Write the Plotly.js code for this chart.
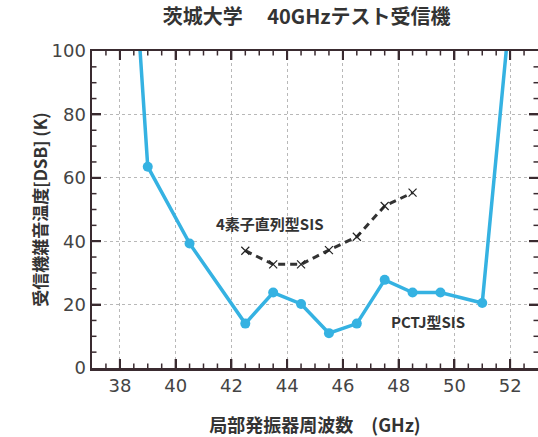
<!DOCTYPE html>
<html>
<head>
<meta charset="utf-8">
<script src="https://cdn.plot.ly/plotly-3.0.1.min.js"></script>
<style>html,body{margin:0;padding:0;background:#fff;}#chart{width:538px;height:437px;}</style>
</head>
<body>
<div id="chart"></div>
<script>
// Data
const pctjFreq = [38.5, 39, 40.5, 42.5, 43.5, 44.5, 45.5, 46.5, 47.5, 48.5, 49.5, 51, 52];
const pctjTemp = [130, 63.5, 39.3, 14, 23.8, 20.2, 11, 14, 27.8, 23.8, 23.8, 20.5, 113];
const sis4Freq = [42.5, 43.5, 44.5, 45.5, 46.5, 47.5, 48.5];
const sis4Temp = [37, 32.7, 32.7, 37.2, 41.4, 51.1, 55.3];
const xRange = [37, 53];
const yRange = [0, 100];
const xTickStart = 38, xTickStep = 2, xMinorStep = 0.5;
const yTickStart = 0, yTickStep = 20, yMinorStep = 5;
const titleText = '茨城大学　 40GHzテスト受信機';
const xTitle = '局部発振器周波数　(GHz)';
const yTitle = '受信機雑音温度[DSB] (K)';
const label4 = '4素子直列型SIS';
const labelP = 'PCTJ型SIS';

const frame = '#3a2b30';
const cjk = '"Noto Sans CJK JP", "Noto Sans", sans-serif';

const traces = [
  {
    x: pctjFreq, y: pctjTemp, type: 'scatter', mode: 'lines+markers',
    line: {color: '#35b2e2', width: 3.5},
    marker: {color: '#35b2e2', size: 10, symbol: 'circle'},
    showlegend: false
  },
  {
    x: sis4Freq, y: sis4Temp, type: 'scatter', mode: 'lines+markers',
    line: {color: '#333333', width: 3, dash: '7px,5px'},
    marker: {color: '#222', size: 8, symbol: 'x-thin', line: {color: '#222', width: 1.2}},
    showlegend: false
  }
];

// Inward tick marks on all four sides, positioned through the axes' own scales
function isMajor(v, start, step) {
  const k = (v - start) / step;
  return Math.abs(k - Math.round(k)) < 1e-9;
}
function tickShapes() {
  const shapes = [];
  const nx = Math.round((xRange[1] - xRange[0]) / xMinorStep);
  for (let i = 1; i < nx; i++) {
    const v = xRange[0] + i * xMinorStep;
    const major = isMajor(v, xTickStart, xTickStep);
    const len = major ? 9 : 4.5, w = major ? 2 : 1.5;
    shapes.push({type: 'line', xref: 'x', yref: 'y', ysizemode: 'pixel', yanchor: yRange[0],
      x0: v, x1: v, y0: 0, y1: len, line: {color: frame, width: w}});
    shapes.push({type: 'line', xref: 'x', yref: 'y', ysizemode: 'pixel', yanchor: yRange[1],
      x0: v, x1: v, y0: 0, y1: -len, line: {color: frame, width: w}});
  }
  const ny = Math.round((yRange[1] - yRange[0]) / yMinorStep);
  for (let i = 1; i < ny; i++) {
    const v = yRange[0] + i * yMinorStep;
    const major = isMajor(v, yTickStart, yTickStep);
    const len = major ? 9 : 4.5, w = major ? 2 : 1.5;
    shapes.push({type: 'line', xref: 'x', yref: 'y', xsizemode: 'pixel', xanchor: xRange[0],
      y0: v, y1: v, x0: 0, x1: len, line: {color: frame, width: w}});
    shapes.push({type: 'line', xref: 'x', yref: 'y', xsizemode: 'pixel', xanchor: xRange[1],
      y0: v, y1: v, x0: 0, x1: -len, line: {color: frame, width: w}});
  }
  return shapes;
}

const axisCommon = {
  tickmode: 'linear',
  ticks: 'inside', ticklen: 9, tickwidth: 2, tickcolor: frame,
  showline: true, linewidth: 2.5, linecolor: frame, mirror: 'allticks',
  showgrid: true, gridcolor: '#b8b8b8', griddash: 'dot', gridwidth: 1,
  zeroline: false,
  tickfont: {family: '"DejaVu Sans", sans-serif', size: 18, color: '#444'}
};

const layout = {
  width: 538, height: 437,
  margin: {l: 92, r: 0, t: 51, b: 69},
  paper_bgcolor: '#ffffff', plot_bgcolor: '#ffffff',
  title: {
    text: titleText, xref: 'container', yref: 'container',
    x: 0.57, xanchor: 'center', y: 0.961, yanchor: 'middle',
    font: {family: cjk, size: 20, color: '#333', weight: 'bold'}
  },
  xaxis: Object.assign({}, axisCommon, {
    range: xRange, tick0: xTickStart, dtick: xTickStep,
    title: {text: xTitle, font: {family: cjk, size: 18, color: '#333', weight: 'bold'}}
  }),
  yaxis: Object.assign({}, axisCommon, {
    range: yRange, tick0: yTickStart, dtick: yTickStep,
    title: {text: yTitle, font: {family: cjk, size: 17, color: '#333', weight: 'bold'}}
  }),
  shapes: tickShapes(),
  annotations: [
    {x: 43.4, y: 45.7, xref: 'x', yref: 'y', text: label4, showarrow: false,
     font: {family: cjk, size: 15, color: '#333', weight: 'bold'}},
    {x: 49.05, y: 14.6, xref: 'x', yref: 'y', text: labelP, showarrow: false,
     font: {family: cjk, size: 15, color: '#333', weight: 'bold'}}
  ]
};

Plotly.newPlot('chart', traces, layout, {staticPlot: true});
</script>
</body>
</html>
